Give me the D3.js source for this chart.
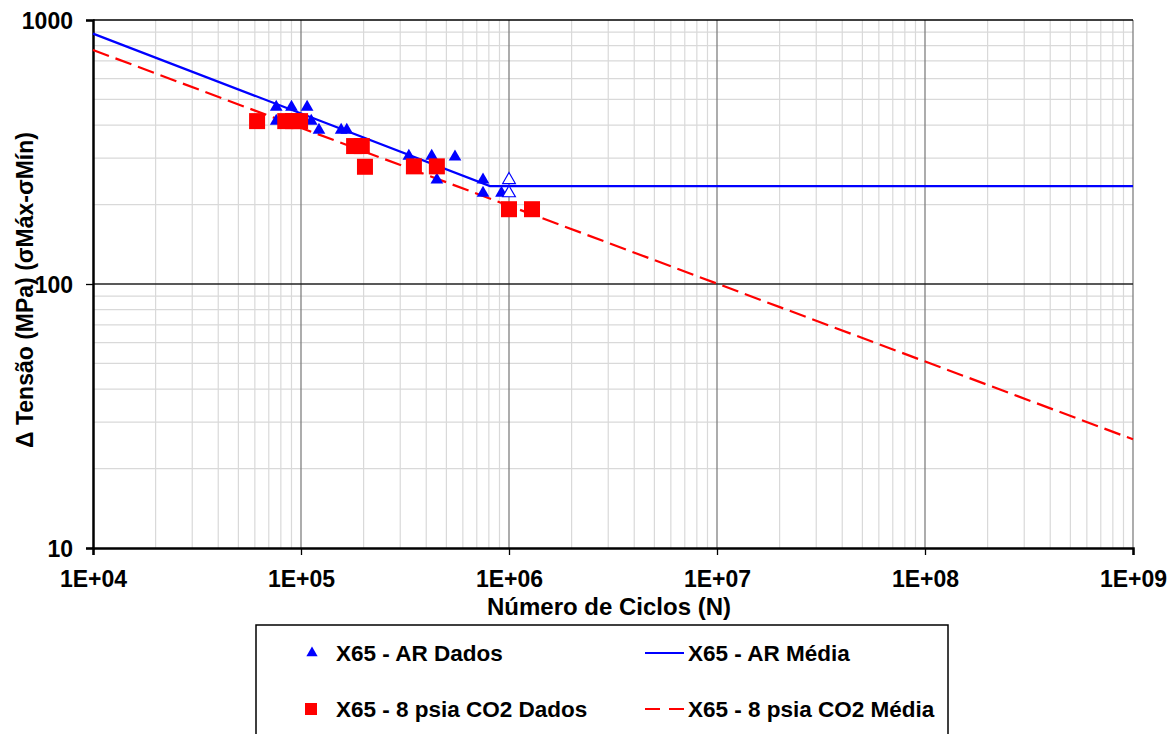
<!DOCTYPE html>
<html>
<head>
<meta charset="utf-8">
<script src="https://cdn.jsdelivr.net/npm/d3@7"></script>
<style>
  html, body { margin: 0; padding: 0; background: #ffffff; }
  svg { display: block; }
  text { font-family: "Liberation Sans", Arial, sans-serif; font-weight: bold; fill: #000; }
</style>
</head>
<body>
<script>
// Fatigue data: X65 steel in air (AR) and in 8 psia CO2
const arCycles = [7.6e4, 9.0e4, 1.07e5, 7.6e4, 1.12e5, 1.22e5, 1.56e5, 1.66e5, 3.3e5, 4.25e5, 5.5e5, 4.5e5, 7.5e5, 7.5e5, 9.2e5];
const arStress = [468, 468, 468, 414, 414, 383, 383, 383, 305, 305, 303, 248, 248, 221, 221];
// run-outs (no failure) at 1E+06 cycles
const arRunoutCycles = [1e6, 1e6];
const arRunoutStress = [248, 221];

const co2Cycles = [6.15e4, 8.4e4, 9.15e4, 9.9e4, 1.8e5, 1.96e5, 2.03e5, 3.49e5, 4.5e5, 1e6, 1.29e6];
const co2Stress = [414, 414, 414, 414, 333, 333, 278, 279, 279, 192, 192];

// mean S-N curves
const arMeanCycles = [1e4, 8.1e5, 1e9];
const arMeanStress = [888, 235, 235];
const co2MeanCycles = [1e4, 1e9];
const co2MeanStress = [770, 25.8];

const xTickValues = [1e4, 1e5, 1e6, 1e7, 1e8, 1e9];
const xTickLabels = ["1E+04", "1E+05", "1E+06", "1E+07", "1E+08", "1E+09"];
const yTickValues = [10, 100, 1000];
const yTickLabels = ["10", "100", "1000"];

const legendLabels = ["X65 - AR Dados", "X65 - AR Média", "X65 - 8 psia CO2 Dados", "X65 - 8 psia CO2 Média"];

const W = 1176, H = 734;
const plot = { left: 93, right: 1133, top: 20, bottom: 548 };

const svg = d3.select("body").append("svg").attr("width", W).attr("height", H);

const x = d3.scaleLog().domain([1e4, 1e9]).range([plot.left, plot.right]);
const y = d3.scaleLog().domain([10, 1000]).range([plot.bottom, plot.top]);

// grid: minor lines for 2..9 in each decade, major lines at decades
const g = svg.append("g");
const minorX = [];
for (let e = 4; e < 9; e++) for (let m = 2; m <= 9; m++) minorX.push(m * Math.pow(10, e));
const minorY = [];
for (let e = 1; e < 3; e++) for (let m = 2; m <= 9; m++) minorY.push(m * Math.pow(10, e));

g.selectAll(".mx").data(minorX).join("line")
  .attr("x1", d => x(d)).attr("x2", d => x(d))
  .attr("y1", plot.top).attr("y2", plot.bottom)
  .attr("stroke", "#d9d9d9").attr("stroke-width", 1.2);
g.selectAll(".my").data(minorY).join("line")
  .attr("x1", plot.left).attr("x2", plot.right)
  .attr("y1", d => y(d)).attr("y2", d => y(d))
  .attr("stroke", "#d9d9d9").attr("stroke-width", 1.2);
g.selectAll(".Mx").data(xTickValues.slice(1)).join("line")
  .attr("x1", d => x(d)).attr("x2", d => x(d))
  .attr("y1", plot.top).attr("y2", plot.bottom)
  .attr("stroke", "#808080").attr("stroke-width", 1.3);
g.append("line")
  .attr("x1", plot.left).attr("x2", plot.right)
  .attr("y1", y(100)).attr("y2", y(100))
  .attr("stroke", "#222").attr("stroke-width", 1.3);
// top border
g.append("line")
  .attr("x1", plot.left).attr("x2", plot.right)
  .attr("y1", y(1000)).attr("y2", y(1000))
  .attr("stroke", "#000").attr("stroke-width", 1.5);

// axes
const xAxis = d3.axisBottom(x).tickValues(xTickValues)
  .tickFormat((d, i) => xTickLabels[i]).tickSize(7).tickPadding(16);
const yAxis = d3.axisLeft(y).tickValues(yTickValues)
  .tickFormat((d, i) => yTickLabels[i]).tickSize(7).tickPadding(13);

const gx = svg.append("g").attr("transform", `translate(0,${plot.bottom})`).call(xAxis);
const gy = svg.append("g").attr("transform", `translate(${plot.left},0)`).call(yAxis);
[gx, gy].forEach(a => {
  a.select(".domain").attr("stroke", "#000").attr("stroke-width", 2.5);
  a.selectAll(".tick line").attr("stroke", "#000").attr("stroke-width", 1.3);
  a.selectAll(".tick text").style("font-size", "23px").style("font-weight", "bold")
    .style("font-family", '"Liberation Sans", Arial, sans-serif').attr("fill", "#000");
});
gy.selectAll(".tick text").attr("dy", "0.36em");

// axis titles
svg.append("text")
  .attr("x", 609).attr("y", 615)
  .attr("text-anchor", "middle").style("font-size", "24px")
  .text("Número de Ciclos (N)");
svg.append("text")
  .attr("transform", "translate(33,290) rotate(-90)")
  .attr("text-anchor", "middle").style("font-size", "23px")
  .text("Δ Tensão (MPa) (σMáx-σMín)");

// mean curves
const line = d3.line().x(d => x(d[0])).y(d => y(d[1]));
svg.append("path")
  .datum(d3.zip(arMeanCycles, arMeanStress))
  .attr("d", line).attr("fill", "none")
  .attr("stroke", "#0000ff").attr("stroke-width", 2.2);
svg.append("path")
  .datum(d3.zip(co2MeanCycles, co2MeanStress))
  .attr("d", line).attr("fill", "none")
  .attr("stroke", "#ff0000").attr("stroke-width", 2.2)
  .attr("stroke-dasharray", "17,7");

// markers
const tri = d3.symbol().type(d3.symbolTriangle).size(70);
svg.selectAll(".ar").data(d3.zip(arCycles, arStress)).join("path")
  .attr("d", tri)
  .attr("transform", d => `translate(${x(d[0])},${y(d[1])})`)
  .attr("fill", "#0000ff");
svg.selectAll(".arRun").data(d3.zip(arRunoutCycles, arRunoutStress)).join("path")
  .attr("d", tri)
  .attr("transform", d => `translate(${x(d[0])},${y(d[1])})`)
  .attr("fill", "#ffffff").attr("stroke", "#0000ff").attr("stroke-width", 1.2);

const sq = 16;
svg.selectAll(".co2").data(d3.zip(co2Cycles, co2Stress)).join("rect")
  .attr("x", d => x(d[0]) - sq / 2).attr("y", d => y(d[1]) - sq / 2)
  .attr("width", sq).attr("height", sq)
  .attr("fill", "#ff0000");

// legend
const lg = svg.append("g");
lg.append("rect")
  .attr("x", 256).attr("y", 625).attr("width", 692).attr("height", 140)
  .attr("fill", "#ffffff").attr("stroke", "#000").attr("stroke-width", 1.5);
const row1 = 653, row2 = 709;
lg.append("path").attr("d", d3.symbol().type(d3.symbolTriangle).size(55))
  .attr("transform", `translate(312,${row1})`).attr("fill", "#0000ff");
lg.append("rect").attr("x", 305).attr("y", row2 - 6).attr("width", 12).attr("height", 12)
  .attr("fill", "#ff0000");
lg.append("line").attr("x1", 645).attr("x2", 684).attr("y1", row1).attr("y2", row1)
  .attr("stroke", "#0000ff").attr("stroke-width", 2.2);
lg.append("line").attr("x1", 645).attr("x2", 684).attr("y1", row2).attr("y2", row2)
  .attr("stroke", "#ff0000").attr("stroke-width", 2.2).attr("stroke-dasharray", "15,9");
const legendPos = [[336, row1], [688, row1], [336, row2], [688, row2]];
lg.selectAll(".lt").data(legendLabels).join("text")
  .attr("x", (d, i) => legendPos[i][0]).attr("y", (d, i) => legendPos[i][1])
  .attr("dy", "0.36em").style("font-size", "22.5px")
  .text(d => d);
</script>
</body>
</html>
